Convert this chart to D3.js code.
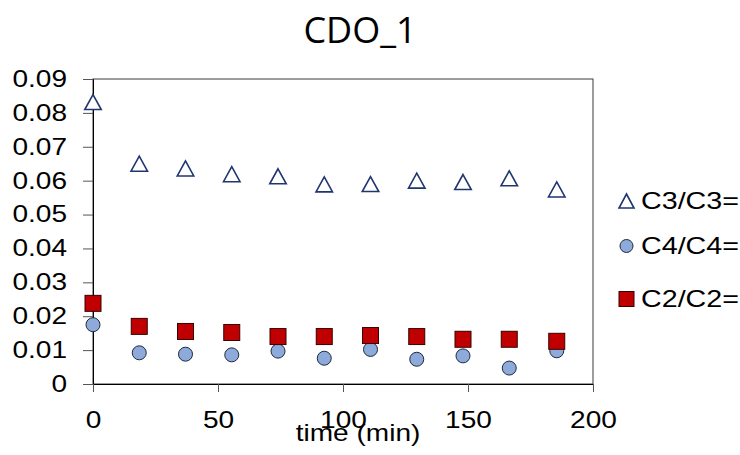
<!DOCTYPE html>
<html>
<head>
<meta charset="utf-8">
<script src="https://cdn.jsdelivr.net/npm/d3@7"></script>
<style>
  html, body { margin: 0; padding: 0; background: #fff; }
  svg { display: block; }
</style>
</head>
<body>
<svg id="chart" width="740" height="455"></svg>
<script>
// Sampling times (min)
const times = [0, 18.5, 37, 55.5, 74, 92.5, 111, 129.5, 148, 166.5, 185.5];
// Ratios per species
const c3 = [0.0832, 0.0650, 0.0636, 0.0619, 0.0613, 0.0589, 0.0590, 0.0600, 0.0596, 0.0607, 0.0574];
const c4 = [0.0175, 0.0092, 0.0088, 0.0086, 0.0097, 0.0076, 0.0102, 0.0073, 0.0083, 0.0047, 0.0098];
const c2 = [0.0238, 0.0170, 0.0155, 0.0152, 0.0140, 0.0140, 0.0143, 0.0140, 0.0132, 0.0132, 0.0126];
const seriesNames = ["C3/C3=", "C4/C4=", "C2/C2="];
const xTicks = [0, 50, 100, 150, 200];
const yTicks = [0, 0.01, 0.02, 0.03, 0.04, 0.05, 0.06, 0.07, 0.08, 0.09];

const svg = d3.select("#chart");
const plot = { left: 93, right: 593, top: 79, bottom: 384 };
const sx = 1.22; // horizontal widening of the label glyphs
const labelFont = "'Liberation Sans', Arial, sans-serif";

const x = d3.scaleLinear().domain([0, 200]).range([plot.left, plot.right]);
const y = d3.scaleLinear().domain([0, 0.09]).range([plot.bottom, plot.top]);

// Title
svg.append("text")
  .attr("x", 360).attr("y", 43)
  .attr("text-anchor", "middle")
  .style("font-family", "'Open Sans', 'Noto Sans', sans-serif")
  .style("font-size", "36px")
  .attr("fill", "#000")
  .text("CDO_1");

// Plot frame
svg.append("rect")
  .attr("x", plot.left).attr("y", plot.top)
  .attr("width", plot.right - plot.left).attr("height", plot.bottom - plot.top)
  .attr("fill", "none").attr("stroke", "#3a3a3a").attr("stroke-width", 1);

// Y axis
const gy = svg.append("g")
  .attr("transform", `translate(${plot.left},0)`)
  .call(d3.axisLeft(y).tickValues(yTicks).tickSize(10)
    .tickFormat(d => d === 0 ? "0" : d3.format(".2f")(d)));
gy.select(".domain").attr("stroke", "#000");
gy.selectAll(".tick line").attr("stroke", "#555");
gy.selectAll(".tick text")
  .attr("x", null)
  .attr("transform", "translate(-26,0) scale(" + sx + ",1)")
  .style("font-family", labelFont).style("font-size", "23px").attr("fill", "#000");

// X axis
const gx = svg.append("g")
  .attr("transform", `translate(0,${plot.bottom})`)
  .call(d3.axisBottom(x).tickValues(xTicks).tickSize(8).tickFormat(d3.format("d")));
gx.select(".domain").attr("stroke", "#000");
gx.selectAll(".tick line").attr("stroke", "#555");
gx.selectAll(".tick text")
  .attr("y", null).attr("dy", null)
  .attr("transform", "translate(0,44) scale(" + sx + ",1)")
  .style("font-family", labelFont).style("font-size", "23px").attr("fill", "#000");

// X axis title
svg.append("text")
  .attr("transform", "translate(358,441) scale(" + sx + ",1)")
  .attr("text-anchor", "middle")
  .style("font-family", labelFont).style("font-size", "23px")
  .attr("fill", "#000")
  .text("time (min)");

// Marker shapes
const triPath = (w, h) => `M0,${-h / 2}L${w / 2},${h / 2}L${-w / 2},${h / 2}Z`;

function drawTriangle(g, cx, cy, w, h) {
  g.append("path").attr("d", triPath(w, h))
    .attr("transform", `translate(${cx},${cy})`)
    .attr("fill", "#fff").attr("stroke", "#1f3670").attr("stroke-width", 1.6)
    .attr("stroke-linejoin", "miter");
}
function drawCircle(g, cx, cy, r) {
  g.append("circle").attr("cx", cx).attr("cy", cy).attr("r", r)
    .attr("fill", "#8eaadb").attr("stroke", "#1e2a3a").attr("stroke-width", 1);
}
function drawSquare(g, cx, cy, s) {
  g.append("rect").attr("x", cx - s / 2).attr("y", cy - s / 2)
    .attr("width", s).attr("height", s)
    .attr("fill", "#c00000").attr("stroke", "#3a0000").attr("stroke-width", 1);
}

const pts = svg.append("g");
const g3 = pts.append("g"), g4 = pts.append("g"), g2 = pts.append("g");
times.forEach((t, i) => drawTriangle(g3, x(t), y(c3[i]), 16.5, 15));
times.forEach((t, i) => drawCircle(g4, x(t), y(c4[i]), 7));
times.forEach((t, i) => drawSquare(g2, x(t), y(c2[i]), 16));

// Legend
const legend = svg.append("g");
const legendRows = [201, 246, 299];
drawTriangle(legend, 626.5, legendRows[0], 15, 14);
drawCircle(legend, 626.5, legendRows[1], 6.5);
drawSquare(legend, 626.5, legendRows[2], 15);
seriesNames.forEach((name, i) => {
  legend.append("text")
    .attr("transform", `translate(641,${legendRows[i]}) scale(${sx},1)`)
    .attr("dy", "0.36em")
    .style("font-family", labelFont).style("font-size", "23.5px")
    .attr("fill", "#000")
    .text(name);
});
</script>
</body>
</html>
